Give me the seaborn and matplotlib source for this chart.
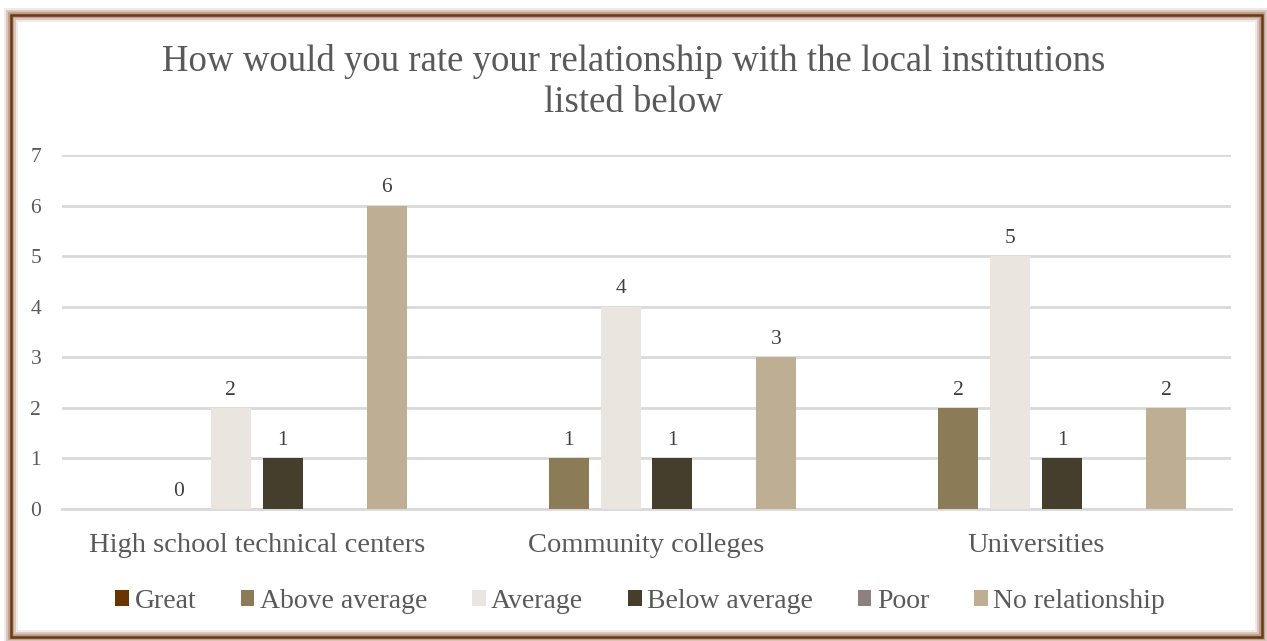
import numpy as np
import pandas as pd
import matplotlib
matplotlib.use("Agg")
import matplotlib.pyplot as plt
import seaborn as sns
from matplotlib.patches import Patch, Rectangle

categories = ["High school technical centers", "Community colleges", "Universities"]
series = ["Great", "Above average", "Average", "Below average", "Poor", "No relationship"]
great = [np.nan, np.nan, np.nan]
above_average = [0, 1, 2]
average = [2, 4, 5]
below_average = [1, 1, 1]
poor = [np.nan, np.nan, np.nan]
no_relationship = [6, 3, 2]
colors = ["#6B3300", "#8B7B57", "#EAE6DF", "#463E2D", "#8C8080", "#BDAE94"]
title = "How would you rate your relationship with the local institutions\nlisted below"

values = [great, above_average, average, below_average, poor, no_relationship]
rows = []
for s, vals in zip(series, values):
    for c, v in zip(categories, vals):
        rows.append({"category": c, "rating": s, "count": v})
df = pd.DataFrame(rows)

sns.set_style("white")
plt.rcParams["font.family"] = ["Liberation Serif", "DejaVu Serif"]
text_color = "#595959"

fig = plt.figure(figsize=(12.67, 6.41), dpi=100)
ax = fig.add_axes([62/1267, 1-509/641, (1231-62)/1267, (509-155)/641])

sns.barplot(data=df, x="category", y="count", hue="rating", hue_order=series,
            order=categories, palette=colors, saturation=1, width=0.8, gap=0.23,
            errorbar=None, legend=False, ax=ax, zorder=3, linewidth=0)

for cont in ax.containers:
    ax.bar_label(cont, fmt="%g", padding=6, fontsize=15.5, color="#404040")

ax.set_ylim(0, 7)
ax.set_yticks(range(0, 8))
ax.set_xlabel("")
ax.set_ylabel("")
ax.grid(axis="y", color="#D9D9D9", linewidth=2, zorder=0)
ax.grid(axis="x", visible=False)
for sp in ["left", "right", "top"]:
    ax.spines[sp].set_visible(False)
ax.spines["bottom"].set_color("#D9D9D9")
ax.spines["bottom"].set_linewidth(2)
ax.tick_params(axis="y", length=0, pad=15, labelsize=15.5, labelcolor=text_color)
ax.tick_params(axis="x", length=0, pad=17, labelsize=20.5, labelcolor=text_color)

fig.text(0.5, 1-82/641, title, ha="center", va="center", fontsize=26.5,
         color=text_color, linespacing=1.25)

handles = [Patch(facecolor=c, edgecolor="none") for c in colors]
fig.legend(handles, series, loc="center", bbox_to_anchor=(640/1267, 1-601/641),
           ncol=6, frameon=False, fontsize=20, handlelength=0.5, handleheight=0.5,
           handletextpad=0.2, columnspacing=1.6, labelcolor=text_color)

# outer frame with glow
for lw, alpha in [(10, 0.15), (7, 0.3), (4, 0.5)]:
    fig.add_artist(Rectangle((11/1267, 4/641), 1251/1267, 622/641, transform=fig.transFigure,
                             fill=False, edgecolor="#A0705A", linewidth=lw, alpha=alpha))
fig.add_artist(Rectangle((11/1267, 4/641), 1251/1267, 622/641, transform=fig.transFigure,
                         fill=False, edgecolor="#6B3A0F", linewidth=1.8))

fig.savefig("out.png", dpi=100, facecolor="white")
